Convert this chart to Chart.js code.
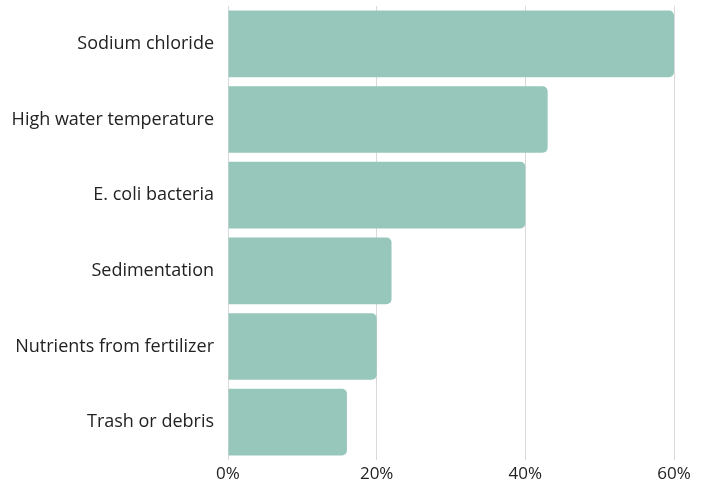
<!DOCTYPE html>
<html><head><meta charset="utf-8">
<script src="https://cdn.jsdelivr.net/npm/chart.js@4/dist/chart.umd.min.js"></script>
<style>html,body{margin:0;padding:0;background:#fff}#wrap{width:707px;height:483px}</style>
</head><body><div id="wrap"><canvas id="c" width="707" height="483"></canvas></div>
<script>
const categories = ["Sodium chloride","High water temperature","E. coli bacteria","Sedimentation","Nutrients from fertilizer","Trash or debris"];
const values = [60, 43, 40, 22, 20, 16];
const tickValues = [0, 20, 40, 60];

new Chart(document.getElementById('c'), {
  type: 'bar',
  data: { labels: categories, datasets: [{ data: values, backgroundColor: '#97c7ba', borderRadius: 5, borderSkipped: 'start', barPercentage: 0.88, categoryPercentage: 1 }] },
  options: {
    indexAxis: 'y', responsive: false, animation: false,
    layout: { padding: { top: 6, right: 33, left: 0, bottom: 0 } },
    plugins: { legend: { display: false }, tooltip: { enabled: false } },
    scales: {
      x: { min: 0, max: 60, afterBuildTicks: s => { s.ticks = tickValues.map(v => ({ value: v })); },
        afterFit: s => { s.height = 23; },
        grid: { color: '#d9d9d9', drawTicks: false, lineWidth: 1 }, border: { display: false },
        ticks: { padding: 4, color: '#222', font: { family: 'Open Sans', size: 17 }, callback: v => v + '%' } },
      y: { afterFit: s => { s.width = 228; s.paddingTop = 0; s.paddingBottom = 0; },
        grid: { display: false }, border: { display: false },
        ticks: { padding: 6, color: '#222', font: { family: 'Open Sans', size: 18 } } }
    }
  }
});
</script></body></html>
